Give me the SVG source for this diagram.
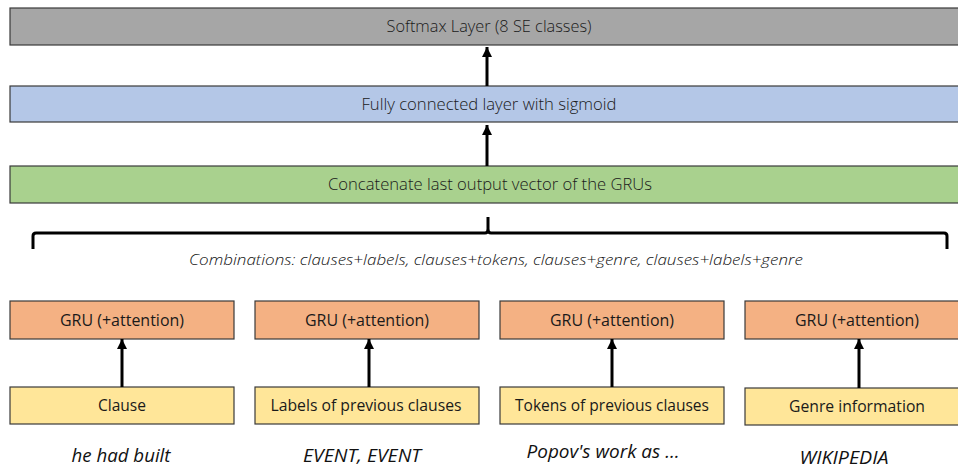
<svg xmlns="http://www.w3.org/2000/svg" width="958" height="468" viewBox="0 0 958 468">
<defs>
<style>
.box{stroke:#3a3a3a;stroke-width:1.2}
.gray{fill:#a6a6a6}
.blue{fill:#b4c7e7}
.green{fill:#a9d18e}
.orange{fill:#f4b183}
.yellow{fill:#ffe699}
.t{font-family:"Open Sans","Liberation Sans",sans-serif;fill:#1a1a1a;text-anchor:middle}
.top{font-size:15.5px;font-weight:300}
.mid{font-size:16px}
.it{font-family:"Open Sans","Liberation Sans",sans-serif;font-style:italic;fill:#111;text-anchor:middle}
.arrow{stroke:#000;stroke-width:3;fill:none}
</style>
<marker id="ah" markerWidth="10" markerHeight="10" viewBox="0 0 10 10" refX="10" refY="5" orient="auto" markerUnits="userSpaceOnUse">
<path d="M0,0 L10,5 L0,10 z" fill="#000"/>
</marker>
</defs>
<rect width="958" height="468" fill="#fff"/>

<g id="softmax">
<rect class="box gray" x="10" y="8" width="960" height="37"/>
<text class="t top" x="489" y="32" textLength="205" lengthAdjust="spacingAndGlyphs">Softmax Layer (8 SE classes)</text>
</g>
<g id="fully-connected">
<rect class="box blue" x="10" y="86" width="960" height="36"/>
<text class="t top" x="489" y="110" textLength="255" lengthAdjust="spacingAndGlyphs">Fully connected layer with sigmoid</text>
</g>
<g id="concatenate">
<rect class="box green" x="10" y="166" width="960" height="37"/>
<text class="t top" x="490" y="190" textLength="324" lengthAdjust="spacingAndGlyphs">Concatenate last output vector of the GRUs</text>
</g>

<g id="combinations">
<path d="M33,249 L33,236 Q33,233 36,233 L485,233 Q488,233 488,229 L488,217 M488,229 Q488,233 491,233 L944,233 Q947,233 947,236 L947,249" stroke="#000" stroke-width="3" fill="none"/>
<text class="it" x="496" y="265" font-size="15" font-weight="300" textLength="614" lengthAdjust="spacingAndGlyphs">Combinations: clauses+labels, clauses+tokens, clauses+genre, clauses+labels+genre</text>
</g>

<g id="gru1">
<rect class="box orange" x="10" y="301" width="224" height="38"/>
<text class="t mid" x="122" y="326" textLength="124" lengthAdjust="spacingAndGlyphs">GRU (+attention)</text>
</g>
<g id="gru2">
<rect class="box orange" x="255" y="301" width="224" height="38"/>
<text class="t mid" x="367" y="326" textLength="124" lengthAdjust="spacingAndGlyphs">GRU (+attention)</text>
</g>
<g id="gru3">
<rect class="box orange" x="500" y="301" width="224" height="38"/>
<text class="t mid" x="612" y="326" textLength="124" lengthAdjust="spacingAndGlyphs">GRU (+attention)</text>
</g>
<g id="gru4">
<rect class="box orange" x="745" y="301" width="230" height="38"/>
<text class="t mid" x="857" y="326" textLength="124" lengthAdjust="spacingAndGlyphs">GRU (+attention)</text>
</g>

<g id="clause">
<rect class="box yellow" x="10" y="387" width="224" height="37"/>
<text class="t mid" x="122" y="411" textLength="48" lengthAdjust="spacingAndGlyphs">Clause</text>
</g>
<g id="labels">
<rect class="box yellow" x="255" y="387" width="224" height="37"/>
<text class="t mid" x="366" y="411" textLength="191" lengthAdjust="spacingAndGlyphs">Labels of previous clauses</text>
</g>
<g id="tokens">
<rect class="box yellow" x="500" y="387" width="224" height="37"/>
<text class="t mid" x="612" y="411" textLength="194" lengthAdjust="spacingAndGlyphs">Tokens of previous clauses</text>
</g>
<g id="genre">
<rect class="box yellow" x="745" y="388" width="230" height="37"/>
<text class="t mid" x="857" y="412" textLength="136" lengthAdjust="spacingAndGlyphs">Genre information</text>
</g>

<g id="examples">
<text class="it" x="121" y="462" font-size="17.5" textLength="99" lengthAdjust="spacingAndGlyphs">he had built</text>
<text class="it" x="362" y="462" font-size="17.5" textLength="118" lengthAdjust="spacingAndGlyphs">EVENT, EVENT</text>
<text class="it" x="603" y="458" font-size="17.5" textLength="153" lengthAdjust="spacingAndGlyphs">Popov's work as …</text>
<text class="it" x="844" y="464" font-size="17.5" textLength="89" lengthAdjust="spacingAndGlyphs">WIKIPEDIA</text>
</g>

<g id="connectors">
<line class="arrow" x1="487" y1="86" x2="487" y2="47" marker-end="url(#ah)"/>
<line class="arrow" x1="487" y1="166" x2="487" y2="125" marker-end="url(#ah)"/>
<line class="arrow" x1="122" y1="387" x2="122" y2="339" marker-end="url(#ah)"/>
<line class="arrow" x1="369" y1="387" x2="369" y2="339" marker-end="url(#ah)"/>
<line class="arrow" x1="612" y1="387" x2="612" y2="339" marker-end="url(#ah)"/>
<line class="arrow" x1="859" y1="388" x2="859" y2="339" marker-end="url(#ah)"/>
</g>
</svg>
